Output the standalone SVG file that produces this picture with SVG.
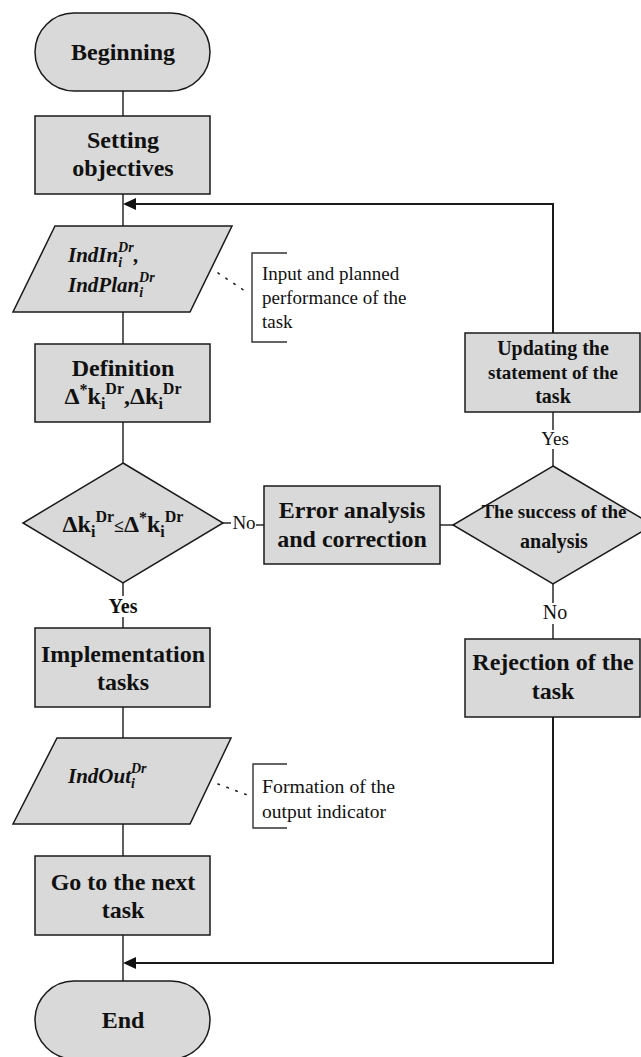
<svg xmlns="http://www.w3.org/2000/svg" width="641" height="1057" viewBox="0 0 641 1057">
<defs>
<style>
.n{fill:#d9d9d9;stroke:#1a1a1a;stroke-width:1.5}
.c{fill:none;stroke:#1a1a1a;stroke-width:1.4}
.cb{fill:none;stroke:#1a1a1a;stroke-width:2}
.dot{fill:none;stroke:#222;stroke-width:1.6;stroke-dasharray:1.5 8;stroke-linecap:round}
.br{fill:none;stroke:#333;stroke-width:1.4}
text{font-family:"Liberation Serif","Times New Roman",serif;fill:#111}
.b24{font-size:24px;font-weight:bold;text-anchor:middle}
.b20{font-size:20px;font-weight:bold;text-anchor:middle}
.r19{font-size:19px;text-anchor:middle}
.ann{font-size:19px}
.ann2{font-size:18px}
.it{font-size:21px;font-weight:bold;font-style:italic}
</style>
</defs>
<rect width="641" height="1057" fill="#fff"/>

<g id="connectors">
<line class="c" x1="123" y1="91" x2="123" y2="116"/>
<line class="c" x1="123" y1="194" x2="123" y2="226"/>
<polyline class="cb" points="553,333 553,204 136,204"/>
<path d="M136,198 L123,204 L136,210 z" fill="#111"/>
<line class="c" x1="123" y1="312" x2="123" y2="344"/>
<line class="c" x1="123" y1="422" x2="123" y2="463"/>
<line class="c" x1="223" y1="523" x2="231" y2="523"/>
<line class="c" x1="256" y1="525" x2="264" y2="525"/>
<text class="r19" x="244" y="529">No</text>
<line class="c" x1="123" y1="583" x2="123" y2="596"/>
<line class="c" x1="123" y1="617" x2="123" y2="628"/>
<text class="b20" x="123" y="613">Yes</text>
<line class="c" x1="440" y1="525" x2="453" y2="525"/>
<line class="c" x1="553" y1="412" x2="553" y2="430"/>
<line class="c" x1="553" y1="449" x2="553" y2="466"/>
<text class="r19" x="555" y="445">Yes</text>
<line class="c" x1="553" y1="584" x2="553" y2="603"/>
<line class="c" x1="553" y1="624" x2="553" y2="639"/>
<text class="r19" x="555" y="619" style="font-size:20px">No</text>
<line class="c" x1="123" y1="707" x2="123" y2="738"/>
<line class="c" x1="123" y1="824" x2="123" y2="856"/>
<line class="c" x1="123" y1="935" x2="123" y2="981"/>
<polyline class="cb" points="553,717 553,963 136,963"/>
<path d="M136,957 L123,963 L136,969 z" fill="#111"/>
<line class="dot" x1="218" y1="273" x2="248" y2="293"/>
<line class="dot" x1="218" y1="784" x2="250" y2="796"/>
</g>

<g id="beginning">
<rect class="n" x="35" y="13" width="175" height="78" rx="39" ry="39"/>
<text class="b24" x="123" y="60">Beginning</text>
</g>

<g id="setting-objectives">
<rect class="n" x="35" y="116" width="175" height="78"/>
<text class="b24" x="123" y="148">Setting</text>
<text class="b24" x="123" y="176">objectives</text>
</g>

<g id="input-data">
<polygon class="n" points="55,226 232,226 190,312 13,312"/>
<text class="it" x="68" y="262">IndIn<tspan font-size="14" dy="5">i</tspan><tspan font-size="14" dx="-4" dy="-15">Dr</tspan><tspan dy="10">,</tspan></text>
<text class="it" x="68" y="292">IndPlan<tspan font-size="14" dy="5">i</tspan><tspan font-size="14" dx="-4" dy="-15">Dr</tspan></text>
</g>

<g id="note-input">
<polyline class="br" points="287,253 252,253 252,342 287,342"/>
<text class="ann" x="262" y="280">Input and planned</text>
<text class="ann" x="262" y="304">performance of the</text>
<text class="ann" x="262" y="328">task</text>
</g>

<g id="definition">
<rect class="n" x="35" y="344" width="175" height="78"/>
<text class="b24" x="123" y="376">Definition</text>
<text class="b24" x="123" y="404">Δ<tspan font-size="16" dy="-9">*</tspan><tspan dy="9">k</tspan><tspan font-size="16" dy="5">i</tspan><tspan font-size="16" dy="-15">Dr</tspan><tspan dy="10">,Δk</tspan><tspan font-size="16" dy="5">i</tspan><tspan font-size="16" dy="-15">Dr</tspan></text>
</g>

<g id="decision-check">
<polygon class="n" points="123,463 223,523 123,583 23,523"/>
<text class="b24" x="123" y="532">Δk<tspan font-size="16" dy="5">i</tspan><tspan font-size="16" dy="-15">Dr</tspan><tspan font-size="18" dy="10">≤</tspan>Δ<tspan font-size="16" dy="-9">*</tspan><tspan dy="9">k</tspan><tspan font-size="16" dy="5">i</tspan><tspan font-size="16" dy="-15">Dr</tspan></text>
</g>

<g id="error-analysis">
<rect class="n" x="264" y="486" width="176" height="78"/>
<text class="b24" x="352" y="518">Error analysis</text>
<text class="b24" x="352" y="547">and correction</text>
</g>

<g id="decision-success">
<polygon class="n" points="553,466 653,525 553,584 453,525"/>
<text class="b20" x="554" y="518" style="font-size:19px">The success of the</text>
<text class="b20" x="554" y="548">analysis</text>
</g>

<g id="updating">
<rect class="n" x="465" y="333" width="175" height="79"/>
<text class="b20" x="553" y="355">Updating the</text>
<text class="b20" x="553" y="379" style="font-size:19px">statement of the</text>
<text class="b20" x="553" y="403">task</text>
</g>

<g id="rejection">
<rect class="n" x="465" y="639" width="175" height="78"/>
<text class="b24" x="553" y="670">Rejection of the</text>
<text class="b24" x="553" y="699">task</text>
</g>

<g id="implementation">
<rect class="n" x="35" y="628" width="175" height="79"/>
<text class="b24" x="123" y="662">Implementation</text>
<text class="b24" x="123" y="690">tasks</text>
</g>

<g id="output-data">
<polygon class="n" points="57,738 231,738 190,824 13,824"/>
<text class="it" x="68" y="783">IndOut<tspan font-size="14" dy="5">i</tspan><tspan font-size="14" dx="-4" dy="-15">Dr</tspan></text>
</g>

<g id="note-output">
<polyline class="br" points="287,764 253,764 253,828 287,828"/>
<text class="ann2" x="262" y="793" textLength="133" lengthAdjust="spacingAndGlyphs">Formation of the</text>
<text class="ann2" x="262" y="818" textLength="124" lengthAdjust="spacingAndGlyphs">output indicator</text>
</g>

<g id="next-task">
<rect class="n" x="35" y="856" width="175" height="79"/>
<text class="b24" x="123" y="890">Go to the next</text>
<text class="b24" x="123" y="918">task</text>
</g>

<g id="end">
<rect class="n" x="35" y="981" width="175" height="78" rx="39" ry="39"/>
<text class="b24" x="123" y="1028">End</text>
</g>
</svg>
